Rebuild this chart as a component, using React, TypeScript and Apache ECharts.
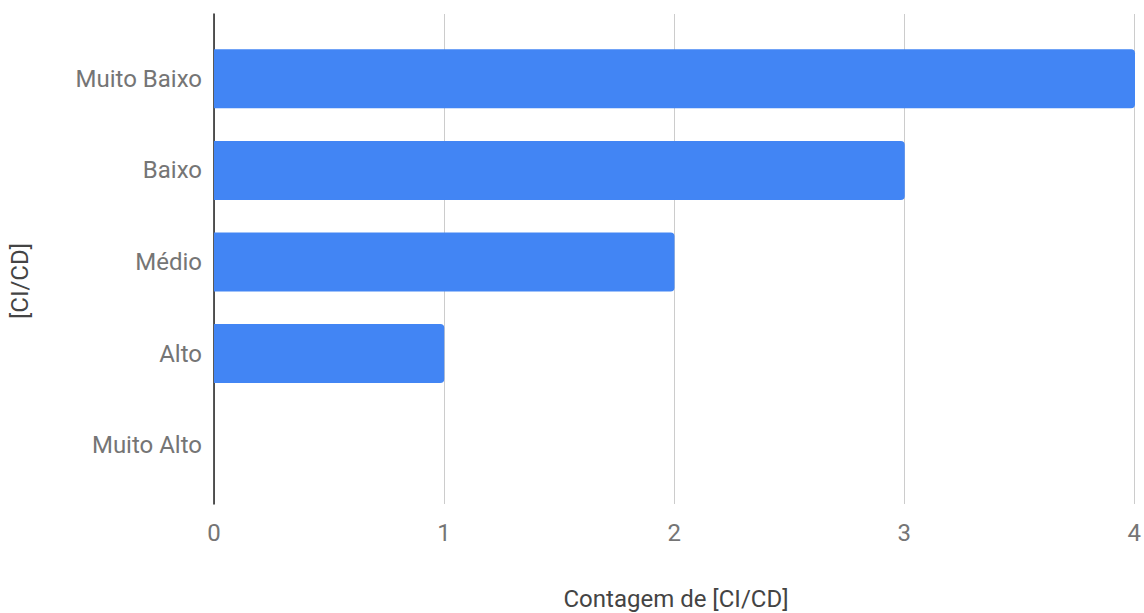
import React, { useEffect, useRef } from "react";
import * as echarts from "echarts";

const categories = ["Muito Baixo", "Baixo", "Médio", "Alto", "Muito Alto"];
const counts = [4, 3, 2, 1, 0];
const xTicks = { min: 0, max: 4, interval: 1 };
const xTitle = "Contagem de [CI/CD]";
const yTitle = "[CI/CD]";

export default function App() {
  const ref = useRef<HTMLDivElement>(null);
  useEffect(() => {
    if (!ref.current) return;
    const chart = echarts.init(ref.current, undefined, { renderer: "svg" });
    const font = "Roboto, 'Noto Sans', sans-serif";
    const gray = "#757575";
    chart.setOption({
      animation: false,
      backgroundColor: "#ffffff",
      grid: [
        { left: 214, right: 9, top: 14, bottom: 109 },
        { left: 214, right: 9, top: 33, bottom: 122 },
      ],
      xAxis: [
        {
          gridIndex: 0,
          type: "value",
          min: xTicks.min,
          max: xTicks.max,
          interval: xTicks.interval,
          axisLine: { show: false },
          axisTick: { show: false },
          axisLabel: { color: gray, fontSize: 24, fontFamily: font, margin: 17 },
          splitLine: { show: true, lineStyle: { color: "#cccccc", width: 1 } },
        },
        {
          gridIndex: 1,
          type: "value",
          min: xTicks.min,
          max: xTicks.max,
          show: false,
        },
      ],
      yAxis: [
        {
          gridIndex: 0,
          type: "value",
          axisLine: { show: true, lineStyle: { color: "#222222", width: 1.5 } },
          axisTick: { show: false },
          axisLabel: { show: false },
          splitLine: { show: false },
        },
        {
          gridIndex: 1,
          type: "category",
          inverse: true,
          data: categories,
          axisLine: { show: false },
          axisTick: { show: false },
          axisLabel: { color: gray, fontSize: 24, fontFamily: font, margin: 12 },
          splitLine: { show: false },
        },
      ],
      series: [
        {
          type: "bar",
          xAxisIndex: 1,
          yAxisIndex: 1,
          data: counts,
          barWidth: 59,
          itemStyle: { color: "#4285f4", borderRadius: [0, 4, 4, 0] },
        },
      ],
      graphic: [
        {
          type: "text",
          x: 676,
          y: 599,
          style: {
            text: xTitle,
            fill: "#444444",
            font: `24px ${font}`,
            textAlign: "center",
            textVerticalAlign: "middle",
          },
        },
        {
          type: "text",
          x: 20,
          y: 281,
          rotation: Math.PI / 2,
          style: {
            text: yTitle,
            fill: "#444444",
            font: `24px ${font}`,
            textAlign: "center",
            textVerticalAlign: "middle",
          },
        },
      ],
    });
    return () => chart.dispose();
  }, []);
  return (
    <div
      ref={ref}
      style={{ position: "fixed", left: 0, top: 0, width: 1144, height: 613 }}
    />
  );
}
